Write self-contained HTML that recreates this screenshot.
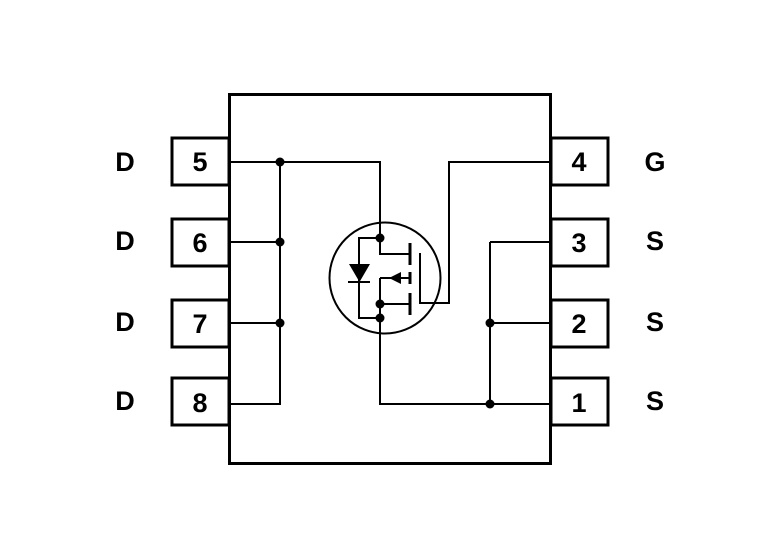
<!DOCTYPE html>
<html><head><meta charset="utf-8"><style>
html,body{margin:0;padding:0;background:#fff;}
svg{display:block;}
text{font-family:"Liberation Sans",Arial,sans-serif;font-weight:bold;font-size:27px;fill:#000;}
</style></head><body>
<svg width="778" height="550" viewBox="0 0 778 550" xmlns="http://www.w3.org/2000/svg">
<g fill="none" stroke="#000">
<rect x="229.5" y="94.5" width="321" height="369" stroke-width="3"/>
<!-- left pin boxes -->
<rect x="172" y="138" width="57" height="47" stroke-width="3"/>
<rect x="172" y="219" width="57" height="47" stroke-width="3"/>
<rect x="172" y="300" width="57" height="47" stroke-width="3"/>
<rect x="172" y="378" width="57" height="47" stroke-width="3"/>
<!-- right pin boxes -->
<rect x="551" y="138" width="57" height="47" stroke-width="3"/>
<rect x="551" y="219" width="57" height="47" stroke-width="3"/>
<rect x="551" y="300" width="57" height="47" stroke-width="3"/>
<rect x="551" y="378" width="57" height="47" stroke-width="3"/>
<g stroke-width="2">
<!-- drain bus -->
<polyline points="230,162 380,162 380,254 410,254"/>
<line x1="230" y1="242" x2="280" y2="242"/>
<line x1="230" y1="323" x2="280" y2="323"/>
<polyline points="230,404 280,404 280,162"/>
<!-- gate -->
<polyline points="550,162 449,162 449,303 420,303 420,253"/>
<!-- source -->
<polyline points="410,304 380,304 380,404 550,404"/>
<line x1="380" y1="278" x2="380" y2="318"/>
<line x1="380" y1="278" x2="410" y2="278"/>
<line x1="550" y1="242" x2="490" y2="242"/>
<line x1="490" y1="242" x2="490" y2="404"/>
<line x1="490" y1="323" x2="550" y2="323"/>
<!-- body diode -->
<polyline points="380,238 359,238 359,318 380,318"/>
<line x1="348" y1="282" x2="370" y2="282"/>
<circle cx="385" cy="278" r="55.5"/>
</g>
<g stroke-width="3">
<line x1="410" y1="243" x2="410" y2="265"/>
<line x1="410" y1="272" x2="410" y2="284"/>
<line x1="410" y1="293" x2="410" y2="315"/>
</g>
</g>
<g fill="#000">
<polygon points="349,264 370,264 359.5,282"/>
<polygon points="389,278 401,272 401,284"/>
<circle cx="280" cy="162" r="4.5"/>
<circle cx="280" cy="242" r="4.5"/>
<circle cx="280" cy="323" r="4.5"/>
<circle cx="490" cy="323" r="4.5"/>
<circle cx="490" cy="404" r="4.5"/>
<circle cx="380" cy="238" r="4.5"/>
<circle cx="380" cy="304" r="4.5"/>
<circle cx="380" cy="318" r="4.5"/>
</g>
<g text-anchor="middle">
<text x="200" y="171">5</text>
<text x="200" y="252">6</text>
<text x="200" y="333">7</text>
<text x="200" y="412">8</text>
<text x="579" y="171">4</text>
<text x="579" y="252">3</text>
<text x="579" y="333">2</text>
<text x="579" y="412">1</text>
<text x="125" y="171">D</text>
<text x="125" y="250">D</text>
<text x="125" y="331">D</text>
<text x="125" y="410">D</text>
<text x="655" y="171">G</text>
<text x="655" y="250">S</text>
<text x="655" y="331">S</text>
<text x="655" y="410">S</text>
</g>
</svg>
</body></html>
